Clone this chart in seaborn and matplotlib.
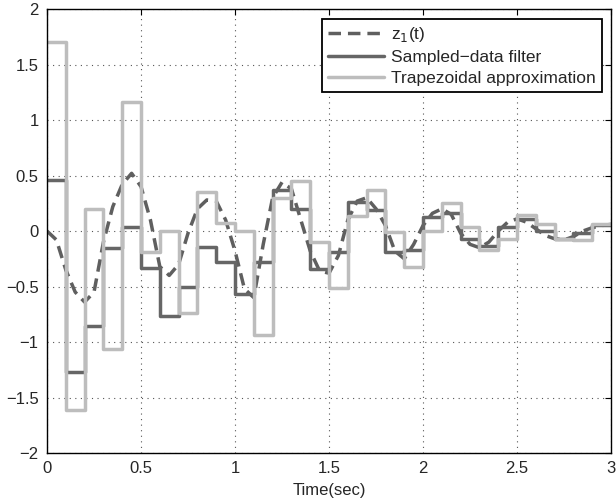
import numpy as np
import pandas as pd
import seaborn as sns
import matplotlib
matplotlib.use("Agg")
import matplotlib.pyplot as plt

# sample instants (0.1 s period) and the held values of each filter
t_steps = np.round(np.arange(0, 3.01, 0.1), 2)
sampled = [0.46, -1.27, -0.86, -0.15, 0.04, -0.33, -0.77, -0.50, -0.14, -0.28,
           -0.57, -0.28, 0.37, 0.20, -0.34, -0.19, 0.26, 0.19, -0.19, -0.17,
           0.13, 0.16, -0.075, -0.135, 0.04, 0.11, 0.0, -0.075, -0.02, 0.055]
trapez = [1.70, -1.61, 0.195, -1.06, 1.165, -0.19, 0.0, -0.74, 0.355, 0.07,
          0.0, -0.94, 0.30, 0.45, -0.10, -0.51, 0.135, 0.37, -0.01, -0.32,
          0.0, 0.25, 0.04, -0.17, -0.075, 0.14, 0.063, -0.075, -0.08, 0.063]

# z1(t) every 0.05 s
t_cont = np.round(np.arange(0, 3.001, 0.05), 2)
z1 = [0.00, -0.08, -0.35, -0.55, -0.64, -0.55, -0.10, 0.22, 0.42, 0.52,
      0.40, 0.10, -0.32, -0.40, -0.30, -0.02, 0.20, 0.28, 0.27, 0.10,
      -0.18, -0.52, -0.60, -0.12, 0.30, 0.44, 0.38, 0.10, -0.18, -0.36,
      -0.38, -0.22, 0.10, 0.27, 0.30, 0.20, 0.05, -0.18, -0.25, -0.12,
      0.05, 0.16, 0.20, 0.15, -0.02, -0.12, -0.15, -0.10, 0.00, 0.08,
      0.11, 0.08, 0.02, -0.04, -0.07, -0.08, -0.05, 0.00, 0.03, 0.05, 0.06]

steps = pd.DataFrame({"t": t_steps,
                      "sampled": sampled + [sampled[-1]],
                      "trapez": trapez + [trapez[-1]]})
cont = pd.DataFrame({"t": t_cont, "z1": z1})

sns.set_style("white")
plt.rcParams["font.family"] = ["Liberation Sans", "DejaVu Sans"]
plt.rcParams["font.size"] = 12

fig = plt.figure(figsize=(6.16, 5.03), dpi=100)
ax = fig.add_axes([0.0763, 0.0994, 0.9157, 0.8826])

sns.lineplot(ax=ax, x="t", y="z1", data=cont, color="#5f5f5f", lw=2.5,
             linestyle=(0, (3.6, 2.0)), label=r"z$_1$(t)", sort=False)
sns.lineplot(ax=ax, x="t", y="sampled", data=steps, color="#666666", lw=2.5,
             drawstyle="steps-post", label="Sampled\u2212data filter", sort=False)
sns.lineplot(ax=ax, x="t", y="trapez", data=steps, color="#bdbdbd", lw=2.5,
             drawstyle="steps-post", label="Trapezoidal approximation", sort=False)

ax.set_xlim(0, 3)
ax.set_ylim(-2, 2)
ax.set_xticks(np.arange(0, 3.01, 0.5))
ax.set_yticks(np.arange(-2, 2.01, 0.5))
ax.set_xticklabels(["0", "0.5", "1", "1.5", "2", "2.5", "3"])
ax.set_yticklabels(["\u22122", "\u22121.5", "\u22121", "\u22120.5", "0", "0.5", "1", "1.5", "2"])
ax.set_xlabel("Time(sec)", labelpad=5)
ax.set_ylabel("")
ax.grid(True, linestyle=(0, (1, 4)), color="#555555", lw=0.8)
ax.tick_params(direction="in", top=True, right=True, length=4, color="black",
               labelsize=12, pad=6)
for s in ax.spines.values():
    s.set_color("black")
    s.set_linewidth(1.0)

leg = ax.legend(loc="upper right", fancybox=False, framealpha=1, borderaxespad=0.55,
                handlelength=3.2, fontsize=12.5, borderpad=0.35, labelspacing=0.35,
                handletextpad=0.4)
leg.get_frame().set_edgecolor("black")
leg.get_frame().set_linewidth(1.3)

fig.savefig("out.png", dpi=100)
